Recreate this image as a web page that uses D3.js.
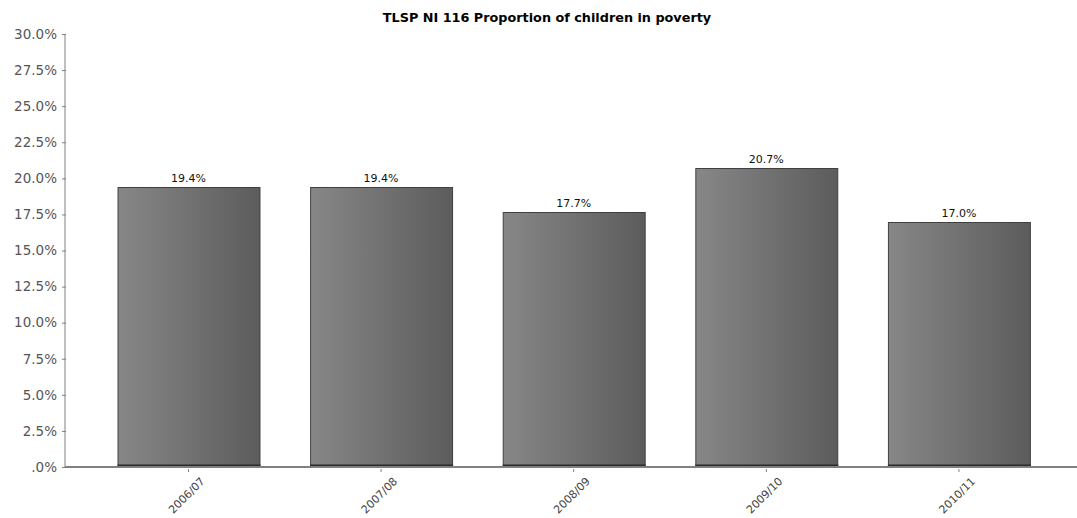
<!DOCTYPE html>
<html><head><meta charset="utf-8">
<script src="https://cdn.jsdelivr.net/npm/d3@7"></script>
<style>body{margin:0;background:#fff}svg{display:block}</style>
</head><body>
<script>
const title = "TLSP NI 116 Proportion of children in poverty";
const categories = ["2006/07","2007/08","2008/09","2009/10","2010/11"];
const values = [19.4, 19.4, 17.7, 20.7, 17.0];
const valueLabels = ["19.4%","19.4%","17.7%","20.7%","17.0%"];
const yTicks = [0,2.5,5,7.5,10,12.5,15,17.5,20,22.5,25,27.5,30];
const yTickLabels = [".0%","2.5%","5.0%","7.5%","10.0%","12.5%","15.0%","17.5%","20.0%","22.5%","25.0%","27.5%","30.0%"];

const W = 1077, H = 518;
const svg = d3.select("body").append("svg").attr("width", W).attr("height", H);
const defs = svg.append("defs");
const grad = defs.append("linearGradient").attr("id","barGrad").attr("x1","0").attr("x2","1").attr("y1","0").attr("y2","0");
grad.append("stop").attr("offset","0").attr("stop-color","#878787");
grad.append("stop").attr("offset","1").attr("stop-color","#5c5c5c");

const x = d3.scaleBand().domain(categories).range([92.2, 1055.2]).paddingInner(0.263).paddingOuter(0.1315);
const y = d3.scaleLinear().domain([0, 30]).range([467, 34]);

svg.append("text").attr("x", 547).attr("y", 22).attr("text-anchor","middle")
  .style("font-family","DejaVu Sans").style("font-weight","bold").style("font-size","12.8px").attr("fill","#000").text(title);

// y axis
const yAxis = d3.axisLeft(y).tickValues(yTicks).tickFormat((d,i)=>yTickLabels[i]).tickSize(3).tickPadding(5);
const gy = svg.append("g").attr("transform","translate(65,0)").call(yAxis);
gy.select(".domain").attr("stroke","#808080").attr("d","M0,34V467");
gy.selectAll(".tick line").attr("stroke","#808080").attr("x2",-3).attr("x1",1);
gy.selectAll(".tick text").style("font-family","DejaVu Sans").style("font-size","13.5px").attr("fill","#555");

// bars
const bars = svg.append("g");
bars.selectAll("rect.bar").data(values).join("rect").attr("class","bar")
  .attr("x",(d,i)=>x(categories[i])+0.5).attr("y",d=>Math.round(y(d))+0.5)
  .attr("width",x.bandwidth()).attr("height",d=>y(0)-Math.round(y(d))-1)
  .attr("fill","url(#barGrad)").attr("stroke","#404040").attr("stroke-width",1);
bars.selectAll("rect.base").data(values).join("rect").attr("class","base")
  .attr("x",(d,i)=>x(categories[i])).attr("y",y(0)-2.5)
  .attr("width",x.bandwidth()+1).attr("height",2).attr("fill","#2a2a2a");
bars.selectAll("text").data(values).join("text")
  .attr("x",(d,i)=>x(categories[i])+x.bandwidth()/2).attr("y",d=>y(d)-5)
  .attr("text-anchor","middle").style("font-family","DejaVu Sans").style("font-size","11px").attr("fill","#111")
  .text((d,i)=>valueLabels[i]);

// x axis
const xAxis = d3.axisBottom(x).tickSize(3).tickPadding(4);
const gx = svg.append("g").attr("transform","translate(0,467)").call(xAxis);
gx.select(".domain").attr("stroke","#808080").attr("stroke-width",2).attr("d","M65,0H1077");
gx.selectAll(".tick line").attr("stroke","#808080").attr("y1",2).attr("y2",5);
gx.selectAll(".tick text").style("font-family","DejaVu Sans").style("font-size","11px").attr("fill","#444")
  .attr("text-anchor","end").attr("dy","0").attr("transform","translate(12,10) rotate(-45)");
</script>
</body></html>
